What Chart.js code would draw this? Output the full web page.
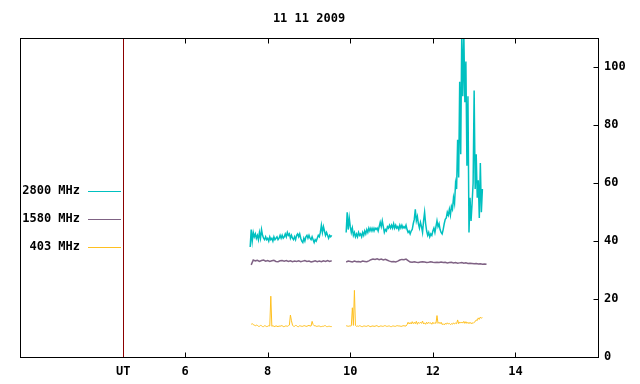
<!DOCTYPE html>
<html>
<head>
<meta charset="utf-8">
<script src="https://cdn.jsdelivr.net/npm/chart.js@4/dist/chart.umd.min.js"></script>
<style>
  html, body { margin: 0; padding: 0; background: #fff; }
  canvas { display: block; }
</style>
</head>
<body>
<canvas id="radioChart" width="640" height="384"></canvas>
<script>
'use strict';

// axis
const xTicks = [6, 8, 10, 12, 14];
const yTicks = [0, 20, 40, 60, 80, 100];
const utHour = 4.5;
const seriesNames = ['2800 MHz', '1580 MHz', '403 MHz'];

// 2800 MHz, two runs (start hour, step 0.025 h)
const start2800 = [7.575, 9.9];
const v2800a = [38, 44, 40, 43, 41.5, 42.5, 41, 42, 40.5, 43, 41, 44, 42, 41, 40.5, 41.5, 40.5, 41, 40, 41.5,
  40.5, 41, 40, 41.5, 40.5, 41, 41.5, 40.5, 41, 42, 41, 42, 41, 41.5, 42.5, 41.5, 43, 42, 42.5, 41,
  42, 41, 40.5, 41.5, 40.5, 42, 42.5, 41.5, 42.5, 41, 40, 39.5, 41, 40, 41.5, 42, 41, 42, 41, 40.5,
  41.5, 40.5, 39.5, 40.5, 40, 41, 42, 41.5, 43, 45.5, 43, 45, 43.5, 42, 43, 42, 41, 42, 41.5, 42];
const v2800b = [43, 50, 44, 48, 45, 43, 44.5, 42, 43, 41.5, 42.5, 41.5, 43, 42, 42.5, 41.5, 43, 42, 43.5, 42.5,
  44, 43, 44.5, 43.5, 44.5, 43.5, 44.5, 43.5, 44.5, 44, 44.5, 43.5, 45, 46.5, 45, 47, 45, 43, 44, 43.5,
  45, 44.5, 45.5, 44.5, 45.5, 44.5, 46, 44.5, 45.5, 44.5, 45, 44, 45.5, 44.5, 45.5, 44.5, 45, 44.5, 45.5, 44,
  43, 43.5, 42.5, 43.5, 44, 46, 47.5, 51, 47, 48.5, 46, 44.5, 46.5, 45, 43, 47, 50, 46, 43.5, 42,
  43, 41.5, 42.5, 42, 43.5, 44.5, 43, 45, 47, 45, 46, 44, 43, 42.5, 44, 46, 47.5, 48, 50, 49,
  51, 49, 52, 51, 55, 53, 60, 58, 75, 62, 95, 70, 112, 90, 112, 88, 102, 66, 90, 43,
  55, 47, 53, 60, 92, 58, 70, 55, 61, 48, 67, 50, 58];

// 1580 MHz (step 0.05 h)
const start1580 = [7.6, 9.9];
const v1580a = [31.8, 33.5, 33.2, 33.4, 33, 33.3, 33.5, 33.1, 33.3, 33, 33.2, 33.4, 33, 32.9, 33.2, 33.3, 33.1, 33.3, 33, 33.2,
  32.9, 33.1, 33, 33.2, 32.9, 33.1, 33.3, 33, 33.1, 32.8, 33, 33.2, 32.9, 33.1, 32.9, 33.2, 33, 33.3, 33, 33.2];
const v1580b = [32.8, 33.1, 33, 32.8, 33.1, 32.9, 33, 32.8, 33.1, 33, 32.9, 33.2, 33.6, 33.8, 33.7, 33.9, 33.6, 33.8, 33.5, 33.7,
  33.4, 33.1, 32.9, 33, 32.8, 33.1, 33.5, 33.7, 33.6, 33.8, 33.3, 32.8, 32.7, 32.9, 32.7, 32.6, 32.8, 32.9, 32.8, 32.6,
  32.7, 32.9, 32.7, 32.6, 32.7, 32.6, 32.8, 32.6, 32.7, 32.5, 32.6, 32.7, 32.5, 32.6, 32.4, 32.5, 32.6, 32.4, 32.5, 32.3,
  32.4, 32.3, 32.2, 32.3, 32.1, 32.2, 32, 32.1, 32];

// 403 MHz (step 0.025 h)
const start403 = [7.6, 9.9];
const v403a = [11.3, 11.5, 11.2, 11, 10.8, 11, 10.9, 10.6, 10.6, 10.9,
  10.8, 10.5, 10.5, 10.8, 10.7, 10.5, 10.6, 10.8, 10.7, 21,
  10.6, 10.8, 10.6, 10.5, 10.8, 10.6, 10.5, 10.7, 10.6, 10.8,
  10.8, 10.5, 10.5, 10.7, 10.7, 10.6, 10.8, 11, 14.5, 12.5,
  11, 10.6, 10.6, 10.9, 10.8, 10.5, 10.5, 10.8, 10.7, 10.6,
  10.6, 10.8, 10.8, 10.6, 10.6, 10.8, 10.9, 10.7, 10.7, 12.3,
  11.2, 10.8, 10.8, 10.6, 10.6, 10.7, 10.7, 10.5, 10.5, 10.6,
  10.6, 10.8, 10.8, 10.5, 10.5, 10.6, 10.6, 10.5, 10.5];
const v403b = [10.8, 10.7, 10.6, 10.7, 10.7, 10.8, 17, 10.9, 23, 10.9,
  10.6, 10.7, 10.6, 10.8, 10.7, 10.5, 10.5, 10.7, 10.7, 10.6,
  10.6, 10.8, 10.8, 10.5, 10.5, 10.7, 10.7, 10.6, 10.6, 10.8,
  10.8, 10.5, 10.5, 10.7, 10.7, 10.6, 10.6, 10.8, 10.8, 10.6,
  10.6, 10.7, 10.7, 10.5, 10.5, 10.7, 10.7, 10.6, 10.6, 10.8,
  10.8, 10.7, 10.7, 10.6, 10.6, 10.8, 10.8, 10.7, 10.7, 11.2,
  12, 11.4, 11.9, 11.4, 12.2, 11.5, 12, 11.5, 12.3, 11.3,
  12, 11.6, 12, 11.6, 12.4, 11.4, 11.8, 11.3, 12, 11.5,
  12, 11.6, 11.8, 11.3, 12, 11.5, 11.9, 11.6, 14.3, 11.6,
  12, 11.5, 12, 11.2, 11.5, 11.1, 11.6, 11.3, 11.8, 11.4,
  11.6, 11.2, 11.5, 11.3, 11.8, 11.4, 11.7, 11.5, 12.8, 11.5,
  12.1, 11.7, 12.1, 11.7, 12.3, 11.6, 12.2, 11.6, 12, 11.5,
  12, 11.5, 11.8, 11.6, 12, 12.2, 12.8, 12.6, 13.5, 13,
  13.8, 13.4, 13.6];

const colors = ['#00c0c0', '#7f6284', '#ffc020'];
const widths = [1.5, 1.5, 1];
const monoFont = { family: "'DejaVu Sans Mono', monospace", size: 12, weight: 'bold' };

// 区間ごとに点を作る
const makeRun = (start, step, vals) => vals.map((v, i) => ({ x: +(start + i * step).toFixed(3), y: v }));
const makeSeries = (starts, step, a, b) =>
  makeRun(starts[0], step, a).concat([{ x: (starts[1] + 9.6) / 2, y: null }], makeRun(starts[1], step, b));

const data = {
  datasets: [
    { label: seriesNames[0], data: makeSeries(start2800, 0.025, v2800a, v2800b) },
    { label: seriesNames[1], data: makeSeries(start1580, 0.05, v1580a, v1580b) },
    { label: seriesNames[2], data: makeSeries(start403, 0.025, v403a, v403b) }
  ].map((d, i) => Object.assign(d, {
    borderColor: colors[i], borderWidth: widths[i], pointRadius: 0, tension: 0, spanGaps: false
  }))
};

// frame, inward ticks, UT line and the left key
const decor = {
  id: 'decor',
  beforeDatasetsDraw(chart) {
    const { ctx, chartArea: a, scales } = chart;
    const ux = Math.round(scales.x.getPixelForValue(utHour)) + 0.5;
    ctx.save();
    ctx.strokeStyle = '#8b0000';
    ctx.lineWidth = 1;
    ctx.beginPath();
    ctx.moveTo(ux, a.top);
    ctx.lineTo(ux, a.bottom);
    ctx.stroke();
    ctx.restore();
  },
  afterDatasetsDraw(chart) {
    const { ctx, chartArea: a, scales } = chart;
    const L = Math.round(a.left) + 0.5, R = Math.round(a.right) + 0.5;
    const T = Math.round(a.top) + 0.5, B = Math.round(a.bottom) + 0.5;
    ctx.save();
    ctx.strokeStyle = '#000';
    ctx.lineWidth = 1;
    ctx.strokeRect(L, T, R - L, B - T);
    ctx.beginPath();
    xTicks.forEach(v => {
      const px = Math.round(scales.x.getPixelForValue(v)) + 0.5;
      ctx.moveTo(px, B); ctx.lineTo(px, B - 5);
      ctx.moveTo(px, T); ctx.lineTo(px, T + 5);
    });
    yTicks.forEach(v => {
      const py = Math.round(scales.y.getPixelForValue(v)) + 0.5;
      ctx.moveTo(R, py); ctx.lineTo(R - 5, py);
    });
    ctx.stroke();

    // key
    ctx.font = 'bold 12px "DejaVu Sans Mono", monospace';
    ctx.fillStyle = '#000';
    ctx.textAlign = 'right';
    ctx.textBaseline = 'middle';
    seriesNames.forEach((name, i) => {
      const y = 191 + i * 28;
      ctx.fillText(name, 80, y);
      ctx.strokeStyle = colors[i];
      ctx.beginPath();
      ctx.moveTo(88, y + 0.5);
      ctx.lineTo(121, y + 0.5);
      ctx.stroke();
    });
    ctx.restore();
  }
};

const options = {
  responsive: false,
  animation: false,
  devicePixelRatio: 1,
  layout: { padding: { left: 20, right: 0, top: 0, bottom: 0 } },
  plugins: {
    legend: { display: false },
    tooltip: { enabled: false },
    title: {
      display: true,
      text: '11 11 2009',
      color: '#000',
      font: monoFont,
      fullSize: false,
      padding: { top: 12, bottom: 12 }
    }
  },
  scales: {
    x: {
      type: 'linear',
      min: 2,
      max: 16,
      afterBuildTicks: s => { s.ticks = [utHour].concat(xTicks).map(v => ({ value: v })); },
      afterFit: s => { s.height = 27; },
      ticks: {
        color: '#000',
        font: monoFont,
        padding: 8,
        maxRotation: 0,
        autoSkip: false,
        callback: v => (v === utHour ? 'UT' : String(v))
      },
      grid: { display: false, drawTicks: false },
      border: { display: false }
    },
    y: {
      position: 'right',
      min: 0,
      max: 110,
      afterBuildTicks: s => { s.ticks = yTicks.map(v => ({ value: v })); },
      afterFit: s => { s.width = 42; },
      ticks: { color: '#000', font: monoFont, padding: 6 },
      grid: { display: false, drawTicks: false },
      border: { display: false }
    }
  }
};

new Chart(document.getElementById('radioChart').getContext('2d'), {
  type: 'line',
  data: data,
  options: options,
  plugins: [decor]
});
</script>
</body>
</html>
